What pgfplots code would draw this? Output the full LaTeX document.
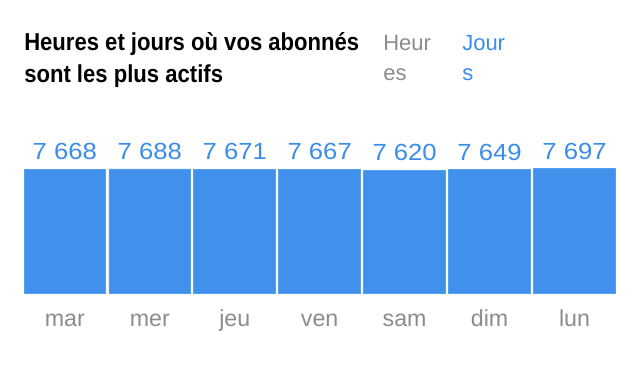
\documentclass[border=0pt]{standalone}
\usepackage{fontspec}
\usepackage{pgfplots}
\pgfplotsset{compat=1.18}
\setmainfont{Liberation Sans}
\newfontfamily\titlefont[FakeStretch=0.9]{Liberation Sans Bold}
\newfontfamily\valfont[FakeStretch=1.1]{Liberation Sans}
\newfontfamily\dayfont{Liberation Sans}
\definecolor{barblue}{HTML}{4190EB}
\definecolor{baredge}{HTML}{55A0EE}
\definecolor{txtblue}{HTML}{3A8DEA}
\definecolor{txtgrey}{HTML}{8C8C8C}
\begin{document}
\begin{tikzpicture}
\fill[white] (0,0) rectangle (480pt,277.5pt);
\useasboundingbox (0,0) rectangle (480pt,277.5pt);
% title
\node[anchor=base west, inner sep=0] at (18pt,239.25pt) {\titlefont\fontsize{18.4pt}{22pt}\selectfont Heures et jours où vos abonnés};
\node[anchor=base west, inner sep=0] at (18pt,215.5pt) {\titlefont\fontsize{18.4pt}{22pt}\selectfont sont les plus actifs};
\node[anchor=base west, inner sep=0, text=txtgrey] at (287.25pt,239.25pt) {\fontsize{16.5pt}{20pt}\selectfont Heur};
\node[anchor=base west, inner sep=0, text=txtgrey] at (287.25pt,217pt) {\fontsize{16.5pt}{20pt}\selectfont es};
\node[anchor=base west, inner sep=0, text=txtblue] at (346.5pt,239.25pt) {\fontsize{16.5pt}{20pt}\selectfont Jour};
\node[anchor=base west, inner sep=0, text=txtblue] at (346.5pt,217pt) {\fontsize{16.5pt}{20pt}\selectfont s};
\begin{axis}[
  at={(18pt,57.5pt)}, anchor=south west,
  scale only axis, width=443.55pt, height=97.05pt,
  xmin=-0.481, xmax=6.481, ymin=0, ymax=8000,
  enlargelimits=false, clip=false,
  axis line style={draw=none},
  ytick=\empty,
  xtick=data,
  xticklabels={mar,mer,jeu,ven,sam,dim,lun},
  major tick length=0pt,
  xtick style={draw=none},
  xticklabel style={anchor=base, yshift=-25pt, text=txtgrey, font=\dayfont\fontsize{17.4pt}{20pt}\selectfont},
  ybar, bar width=0.962,
  point meta=explicit symbolic,
  nodes near coords={\valfont\fontsize{17.5pt}{20pt}\selectfont\pgfplotspointmeta},
  every node near coord/.append style={anchor=base, yshift=7pt, inner sep=0pt, text=txtblue},
]
\addplot[fill=barblue, draw=baredge, line width=0.6pt] coordinates {
  (0,7668) [7 668]
  (1,7688) [7 688]
  (2,7671) [7 671]
  (3,7667) [7 667]
  (4,7620) [7 620]
  (5,7649) [7 649]
  (6,7697) [7 697]
};
\end{axis}
\end{tikzpicture}
\end{document}
